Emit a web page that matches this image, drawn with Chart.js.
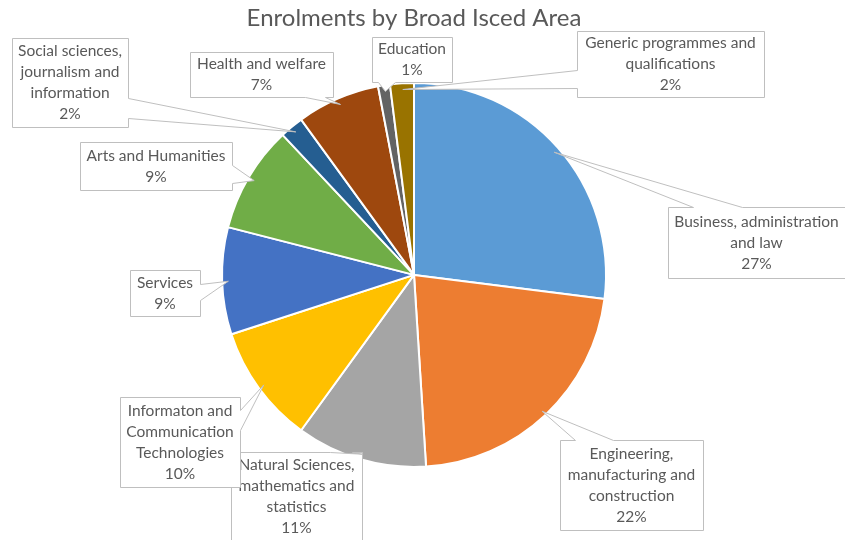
<!DOCTYPE html>
<html>
<head>
<meta charset="utf-8">
<script src="https://cdn.jsdelivr.net/npm/chart.js@4/dist/chart.umd.min.js"></script>
<style>
  html, body { margin: 0; padding: 0; background: #fff; }
  #wrap { width: 845px; height: 540px; }
</style>
</head>
<body>
<div id="wrap"><canvas id="myChart" width="845" height="540"></canvas></div>
<script>
'use strict';
const areas = [
  'Business, administration and law',
  'Engineering, manufacturing and construction',
  'Natural Sciences, mathematics and statistics',
  'Informaton and Communication Technologies',
  'Services',
  'Arts and Humanities',
  'Social sciences, journalism and information',
  'Health and welfare',
  'Education',
  'Generic programmes and qualifications',
];
const shares = [27, 22, 11, 10, 9, 9, 2, 7, 1, 2];
const colours = ['#5B9BD5', '#ED7D31', '#A5A5A5', '#FFC000', '#4472C4',
  '#70AD47', '#255E91', '#9E480E', '#636363', '#997300'];

// how each callout wraps its name
const wrapLines = [
  ['Business, administration', 'and law'],
  ['Engineering,', 'manufacturing and', 'construction'],
  ['Natural Sciences,', 'mathematics and', 'statistics'],
  ['Informaton and', 'Communication', 'Technologies'],
  ['Services'],
  ['Arts and Humanities'],
  ['Social sciences,', 'journalism and', 'information'],
  ['Health and welfare'],
  ['Education'],
  ['Generic programmes and', 'qualifications'],
];
// callout boxes: x0, y0, x1, y1, side of the tail, tail base from/to
const boxes = [
  [668, 207, 852, 278, 'top', 693, 742],
  [560, 440, 703, 530, 'top', 575, 613],
  [231, 452, 362, 548, 'top', 330, 352],
  [120, 397, 240, 487, 'right', 410, 430],
  [130, 270, 200, 316, 'right', 284, 300],
  [80, 142, 232, 190, 'right', 165, 183],
  [12, 38, 128, 127, 'right', 98, 118],
  [190, 52, 333, 97, 'bottom', 305, 325],
  [372, 37, 452, 82, 'bottom', 378, 395],
  [577, 31, 764, 97, 'left', 70, 88],
];

const calloutPlugin = {
  id: 'callouts',
  afterDatasetsDraw(chart) {
    const c = chart.ctx;
    const meta = chart.getDatasetMeta(0);
    c.save();
    c.font = '15.5px Lato';
    c.textAlign = 'center';
    c.textBaseline = 'middle';
    meta.data.forEach((arc, i) => {
      const p = arc.getProps(['x', 'y', 'startAngle', 'endAngle', 'outerRadius'], true);
      const mid = (p.startAngle + p.endAngle) / 2;
      const ax = p.x + Math.cos(mid) * p.outerRadius * 0.97;
      const ay = p.y + Math.sin(mid) * p.outerRadius * 0.97;
      const [x0, y0, x1, y1, side, b1, b2] = boxes[i];
      const pts = [[x0, y0]];
      if (side === 'top') pts.push([b1, y0], [ax, ay], [b2, y0]);
      pts.push([x1, y0]);
      if (side === 'right') pts.push([x1, b1], [ax, ay], [x1, b2]);
      pts.push([x1, y1]);
      if (side === 'bottom') pts.push([b2, y1], [ax, ay], [b1, y1]);
      pts.push([x0, y1]);
      if (side === 'left') pts.push([x0, b2], [ax, ay], [x0, b1]);
      c.beginPath();
      pts.forEach(([px, py], k) => {
        if (k === 0) c.moveTo(px + 0.5, py + 0.5);
        else c.lineTo(px + 0.5, py + 0.5);
      });
      c.closePath();
      c.fillStyle = '#fff';
      c.fill();
      c.strokeStyle = '#BFBFBF';
      c.lineWidth = 1;
      c.stroke();
      const lines = wrapLines[i].concat([shares[i] + '%']);
      const step = 21;
      const cy = (y0 + Math.min(y1, 540)) / 2;
      const top = (i === 2 ? 465 : cy - (lines.length - 1) * step / 2);
      c.fillStyle = '#595959';
      lines.forEach((t, k) => c.fillText(t, (x0 + Math.min(x1, 845)) / 2, top + k * step));
    });
    c.restore();
  },
};

new Chart(document.getElementById('myChart'), {
  type: 'pie',
  data: {
    labels: areas,
    datasets: [{
      data: shares,
      backgroundColor: colours,
      borderColor: '#fff',
      borderWidth: 2,
    }],
  },
  options: {
    responsive: false,
    animation: false,
    layout: { padding: { top: 0, bottom: 72, left: 221, right: 238 } },
    plugins: {
      legend: { display: false },
      tooltip: { enabled: false },
      title: {
        display: true,
        text: 'Enrolments by Broad Isced Area',
        color: '#595959',
        font: { family: 'Lato', size: 24, weight: 'normal' },
        padding: { top: 4, bottom: 49 },
      },
    },
  },
  plugins: [calloutPlugin],
});
</script>
</body>
</html>
